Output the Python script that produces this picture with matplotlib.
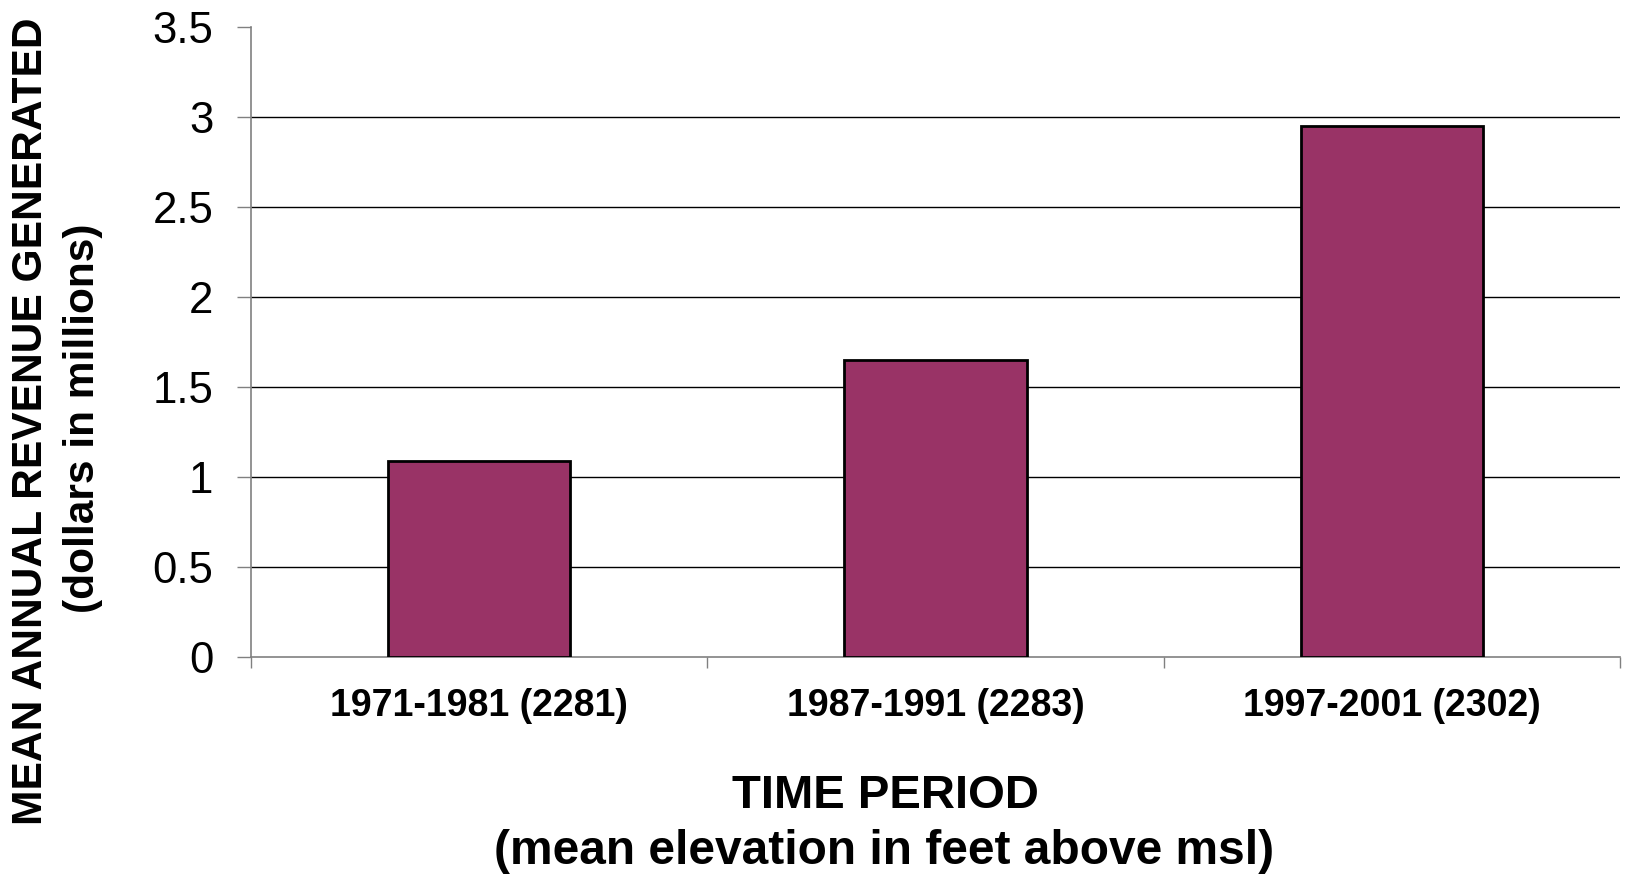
import matplotlib
matplotlib.use("Agg")
import matplotlib.pyplot as plt
import numpy as np

categories = ["1971-1981 (2281)", "1987-1991 (2283)", "1997-2001 (2302)"]
values = [1.09, 1.65, 2.95]
yticks = [0, 0.5, 1, 1.5, 2, 2.5, 3, 3.5]
ytick_labels = ["0", "0.5", "1", "1.5", "2", "2.5", "3", "3.5"]

plt.rcParams['font.family'] = ['Liberation Sans', 'DejaVu Sans']

W, H = 1631, 875
fig = plt.figure(figsize=(W / 100, H / 100), dpi=100)
ax = fig.add_axes([251 / W, 1 - 657 / H, (1620 - 251) / W, (657 - 27) / H])

x = np.arange(len(categories))
ax.bar(x, values, width=0.40, color="#993366", edgecolor="black", linewidth=2.0, zorder=3)

ax.set_xlim(-0.5, len(categories) - 0.5)
ax.set_ylim(0, 3.5)
ax.set_yticks(yticks)
ax.set_yticklabels(ytick_labels, fontsize=31.5)
ax.tick_params(axis='y', length=10, width=1, color='#808080', pad=17)

ax.set_xticks(x)
ax.set_xticklabels(categories, fontsize=27, fontweight='bold')
ax.tick_params(axis='x', length=0, pad=22)
# minor ticks at category boundaries
ax.set_xticks(np.arange(-0.5, len(categories), 1.0), minor=True)
ax.tick_params(axis='x', which='minor', length=8, width=1, color='#808080', direction='out')

for yv in yticks[1:-1]:
    ax.axhline(yv, color='black', linewidth=1.0, zorder=1)

for s in ['top', 'right']:
    ax.spines[s].set_visible(False)
for s in ['left', 'bottom']:
    ax.spines[s].set_color('#808080')
    ax.spines[s].set_linewidth(1.2)

fig.text(31 / W, 1 - 421 / H, "MEAN ANNUAL REVENUE GENERATED", rotation=90,
         ha='center', va='center', fontsize=30.6, fontweight='bold')
fig.text(83 / W, 1 - 418 / H, "(dollars in millions)", rotation=90,
         ha='center', va='center', fontsize=30.6, fontweight='bold')

fig.text(885 / W, 1 - 796 / H, "TIME PERIOD", ha='center', va='center',
         fontsize=34, fontweight='bold')
fig.text(884 / W, 1 - 851 / H, "(mean elevation in feet above msl)", ha='center',
         va='center', fontsize=34.5, fontweight='bold')

fig.savefig("out.png", dpi=100)
